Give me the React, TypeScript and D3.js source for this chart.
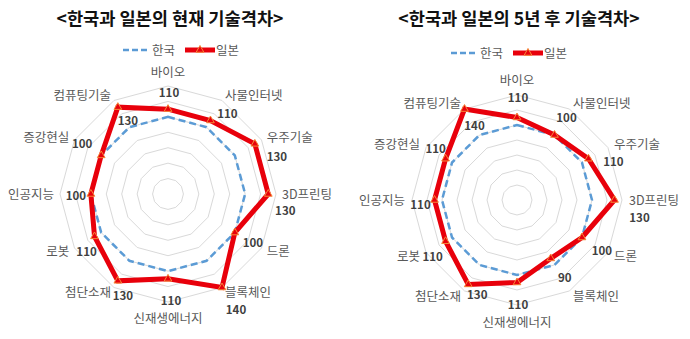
import React from 'react';
import * as d3 from 'd3';

// 12 technology areas, clockwise from the top
const categories = ['바이오', '사물인터넷', '우주기술', '3D프린팅', '드론', '블록체인', '신재생에너지', '첨단소재', '로봇', '인공지능', '증강현실', '컴퓨팅기술'];

// Korea = 100 baseline
const koreaNow = [100, 100, 100, 100, 100, 100, 100, 100, 100, 100, 100, 100];
const japanNow = [110, 110, 130, 130, 100, 140, 110, 130, 110, 100, 100, 130];
const korea5y = [100, 100, 100, 100, 100, 100, 100, 100, 100, 100, 100, 100];
const japan5y = [110, 100, 110, 130, 100, 90, 110, 130, 110, 110, 110, 140];

const ringTicks = [20, 40, 60, 80, 100, 120, 140];
const seriesNames = ['한국', '일본'];

// hand-placed data label offsets (dx, dy) from each point, as in the original
const labelOffsetsNow: [number, number][] = [
  [1, -16], [17, -7], [22, 13], [17, 17], [18, 10], [14, 22],
  [3, 22], [5, 15], [-8, 16], [-15, 2], [-19, -11], [10, 14],
];
const labelOffsets5y: [number, number][] = [
  [1, -20], [12, -17], [25, 3], [25, 18], [20, 13], [14, 20],
  [1, 22], [9, 11], [-13, 16], [-14, 5], [-10, -10], [10, 17],
];

const FONT = '"Noto Sans CJK KR", "Noto Sans", sans-serif';
const RED = '#e8000b';
const BLUE = '#5b9bd5';
const GRID = '#d9d9d9';

interface RadarProps {
  title: string;
  korea: number[];
  japan: number[];
  offsets: [number, number][];
  cx: number;
  cy: number;
  outer: number;
  labelR: number;
  titleX: number;
  legendX: number;
  legendY: number;
}

function Radar({ title, korea, japan, offsets, cx, cy, outer, labelR, titleX, legendX, legendY }: RadarProps) {
  const r = d3.scaleLinear().domain([0, 140]).range([0, outer]);
  const angle = d3.scaleLinear().domain([0, categories.length]).range([0, 2 * Math.PI]);

  const radial = d3.lineRadial<number>()
    .angle((_, i) => angle(i))
    .radius((d) => r(d))
    .curve(d3.curveLinearClosed);

  const ring = (v: number) => radial(categories.map(() => v)) ?? '';
  const pt = (i: number, v: number) => [Math.sin(angle(i)) * r(v), -Math.cos(angle(i)) * r(v)];
  const tri = d3.symbol(d3.symbolTriangle, 26)() ?? '';

  return (
    <g>
      <text x={titleX} y={25} textAnchor="middle" fontFamily={FONT} fontWeight={700} fontSize={17.6} fill="#111">
        {title}
      </text>

      {/* legend */}
      <g transform={`translate(${legendX},${legendY})`} fontFamily={FONT} fontSize={12.5} fill="#595959">
        <line x1={0} x2={26} y1={0} y2={0} stroke={BLUE} strokeWidth={2.5} strokeDasharray="6,3" />
        <text x={29} y={4.5}>{seriesNames[0]}</text>
        <line x1={62} x2={92} y1={0} y2={0} stroke={RED} strokeWidth={5} />
        <path d={tri} transform="translate(77,0)" fill={RED} stroke="#f5893a" strokeWidth={1} />
        <text x={93} y={4.5}>{seriesNames[1]}</text>
      </g>

      <g transform={`translate(${cx},${cy})`}>
        {ringTicks.map((t) => (
          <path key={t} d={ring(t)} fill="none" stroke={GRID} strokeWidth={1} />
        ))}

        <path d={radial(korea) ?? ''} fill="none" stroke={BLUE} strokeWidth={2.5} strokeDasharray="7,4" />
        <path d={radial(japan) ?? ''} fill="none" stroke={RED} strokeWidth={5} strokeLinejoin="miter" />

        {japan.map((v, i) => {
          const [x, y] = pt(i, v);
          return <path key={i} d={tri} transform={`translate(${x},${y})`} fill={RED} stroke="#f5893a" strokeWidth={1} />;
        })}

        {categories.map((c, i) => {
          const a = angle(i);
          const s = Math.sin(a);
          const co = Math.cos(a);
          const x = s * labelR;
          const y = -co * labelR;
          const anchor = s > 0.1 ? 'start' : s < -0.1 ? 'end' : 'middle';
          const by = co > 0.9 ? y - 3 : co < -0.9 ? y + 15 : y + 4.5;
          return (
            <text key={c} x={x} y={by} textAnchor={anchor} fontFamily={FONT} fontSize={12.5} fill="#595959">
              {c}
            </text>
          );
        })}

        {japan.map((v, i) => {
          const [x, y] = pt(i, v);
          const [dx, dy] = offsets[i];
          return (
            <text key={i} x={x + dx} y={y + dy + 4} textAnchor="middle" fontFamily={FONT} fontWeight={700} fontSize={11.5} fill="#404040">
              {v}
            </text>
          );
        })}
      </g>
    </g>
  );
}

export default function App() {
  return (
    <div style={{ position: 'absolute', left: 0, top: 0, background: '#fff' }}>
      <svg width={690} height={339} viewBox="0 0 690 339" style={{ display: 'block' }}>
        <rect width={690} height={339} fill="#fff" />
        <Radar
          title="<한국과 일본의 현재 기술격차>"
          korea={koreaNow}
          japan={japanNow}
          offsets={labelOffsetsNow}
          cx={168}
          cy={194}
          outer={108}
          labelR={114}
          titleX={170}
          legendX={123}
          legendY={50}
        />
        <Radar
          title="<한국과 일본의 5년 후 기술격차>"
          korea={korea5y}
          japan={japan5y}
          offsets={labelOffsets5y}
          cx={517}
          cy={200}
          outer={105}
          labelR={112}
          titleX={519}
          legendX={451}
          legendY={53}
        />
      </svg>
    </div>
  );
}
